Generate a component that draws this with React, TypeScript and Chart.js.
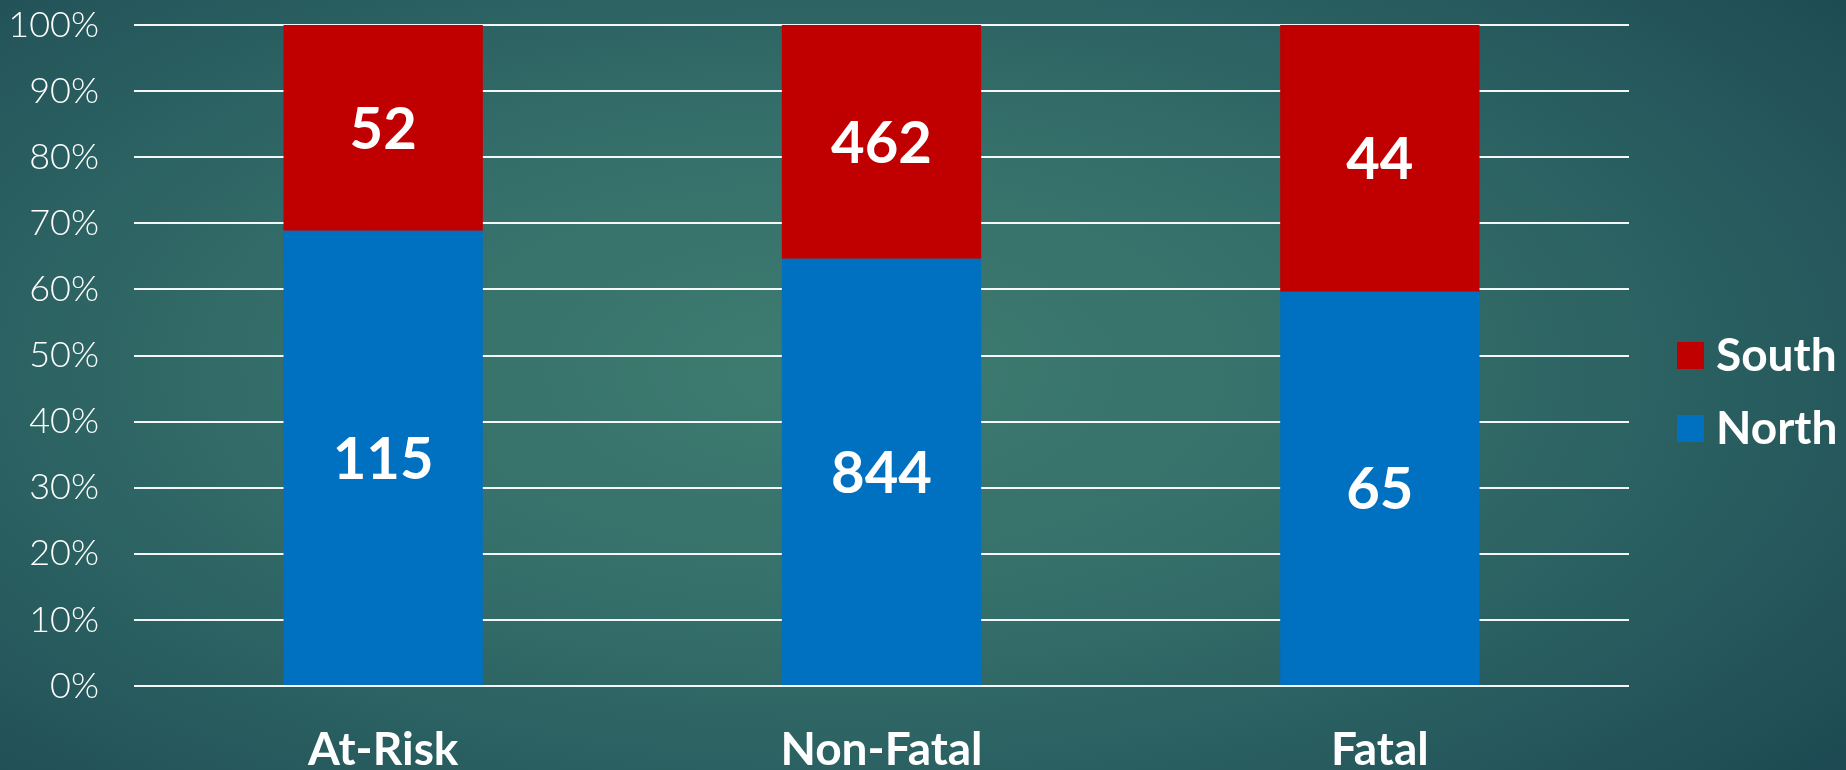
import React, { useEffect, useRef } from "react";
import { Chart, registerables } from "chart.js";

Chart.register(...registerables);

const categories = ["At-Risk", "Non-Fatal", "Fatal"];
const northCounts = [115, 844, 65];
const southCounts = [52, 462, 44];
const yTicks = [0, 10, 20, 30, 40, 50, 60, 70, 80, 90, 100];

const NORTH_COLOR = "#0070C0";
const SOUTH_COLOR = "#C00000";
const BOLD_FONT = "'Lato', 'Open Sans', sans-serif";

const totals = categories.map((_, i) => northCounts[i] + southCounts[i]);
const northPct = northCounts.map((v, i) => (v / totals[i]) * 100);
const southPct = southCounts.map((v, i) => (v / totals[i]) * 100);

const countLabels = [northCounts, southCounts];

const dataLabelPlugin = {
  id: "countLabels",
  afterDatasetsDraw(chart: any) {
    const ctx = chart.ctx;
    ctx.save();
    ctx.fillStyle = "#ffffff";
    ctx.font = `bold 58px ${BOLD_FONT}`;
    ctx.textAlign = "center";
    ctx.textBaseline = "middle";
    chart.data.datasets.forEach((ds: any, di: number) => {
      const meta = chart.getDatasetMeta(di);
      meta.data.forEach((bar: any, i: number) => {
        const y = (bar.y + bar.base) / 2;
        ctx.fillText(String(countLabels[di][i]), bar.x, y + 2);
      });
    });
    ctx.restore();
  },
};

const legendPlugin = {
  id: "customLegend",
  afterDraw(chart: any) {
    const ctx = chart.ctx;
    ctx.save();
    const items = [
      { label: "South", color: SOUTH_COLOR, y: 355.5 },
      { label: "North", color: NORTH_COLOR, y: 428.5 },
    ];
    ctx.font = `bold 46px ${BOLD_FONT}`;
    ctx.textAlign = "left";
    ctx.textBaseline = "middle";
    items.forEach((it) => {
      ctx.fillStyle = it.color;
      ctx.fillRect(1677, it.y - 13.5, 27, 27);
      ctx.fillStyle = "#ffffff";
      ctx.fillText(it.label, 1716, it.y + 1);
    });
    ctx.restore();
  },
};

export default function App() {
  const ref = useRef<HTMLCanvasElement>(null);

  useEffect(() => {
    document.body.style.margin = "0";
    const canvas = ref.current;
    if (!canvas) return;
    const chart = new Chart(canvas, {
      type: "bar",
      data: {
        labels: categories,
        datasets: [
          {
            label: "North",
            data: northPct,
            backgroundColor: NORTH_COLOR,
            borderWidth: 0,
            barPercentage: 0.8,
            categoryPercentage: 0.5,
          },
          {
            label: "South",
            data: southPct,
            backgroundColor: SOUTH_COLOR,
            borderWidth: 0,
            barPercentage: 0.8,
            categoryPercentage: 0.5,
          },
        ],
      },
      options: {
        responsive: false,
        animation: false,
        layout: { padding: { top: 25, right: 217, left: 0, bottom: 0 } },
        plugins: {
          legend: { display: false },
          tooltip: { enabled: false },
        },
        scales: {
          x: {
            stacked: true,
            grid: { display: false, drawTicks: false },
            border: { display: false },
            ticks: {
              color: "#ffffff",
              font: { family: BOLD_FONT, size: 46, weight: "bold" },
              padding: 37,
            },
            afterFit: (s: any) => {
              s.height = 84;
              s.paddingLeft = 0;
              s.paddingRight = 0;
            },
          },
          y: {
            stacked: true,
            min: 0,
            max: 100,
            afterBuildTicks: (s: any) => {
              s.ticks = yTicks.map((v) => ({ value: v }));
            },
            grid: {
              color: "rgba(255,255,255,0.95)",
              lineWidth: 2,
              drawTicks: false,
            },
            border: { display: false },
            ticks: {
              color: "#ffffff",
              font: { family: "'Lato', sans-serif", size: 36, weight: 300 },
              padding: 35,
              callback: (v: any) => `${v}%`,
            },
            afterFit: (s: any) => {
              s.width = 134;
              s.paddingTop = 0;
              s.paddingBottom = 0;
            },
          },
        },
      },
      plugins: [dataLabelPlugin, legendPlugin],
    });
    return () => chart.destroy();
  }, []);

  return (
    <div
      style={{
        position: "absolute",
        left: 0,
        top: 0,
        width: 1846,
        height: 770,
        overflow: "hidden",
        background:
          "radial-gradient(ellipse 70% 80% at 45% 48%, #3e7c70 0%, #356f6a 40%, #295e60 70%, #1e4b53 100%)",
      }}
    >
      <canvas ref={ref} width={1846} height={770} style={{ display: "block" }} />
    </div>
  );
}
